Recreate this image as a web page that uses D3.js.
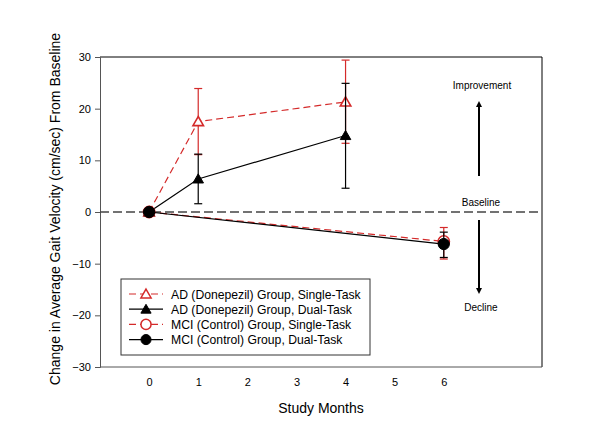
<!DOCTYPE html>
<html><head><meta charset="utf-8">
<script src="https://cdn.jsdelivr.net/npm/d3@7"></script>
<style>body{margin:0;background:#fff}svg{display:block;font-family:Arial,"Liberation Sans",sans-serif}</style>
</head><body>
<svg id="c" width="600" height="443"></svg>
<script>
const months = [0, 1, 4];
const monthsMCI = [0, 6];
const xTicks = [0, 1, 2, 3, 4, 5, 6];
const yTicks = [-30, -20, -10, 0, 10, 20, 30];
const adSingle = [0, 17.5, 21.3];
const adSingleLo = [0, 11.1, 13.3];
const adSingleHi = [0, 23.9, 29.4];
const adDual = [0, 6.4, 14.8];
const adDualLo = [0, 1.6, 4.6];
const adDualHi = [0, 11.2, 24.9];
const mciSingle = [0, -5.7];
const mciSingleLo = [0, -9.1];
const mciSingleHi = [0, -3.0];
const mciDual = [0, -6.2];
const mciDualLo = [0, -8.8];
const mciDualHi = [0, -3.9];
const legendLabels = ["AD (Donepezil) Group, Single-Task","AD (Donepezil) Group, Dual-Task","MCI (Control) Group, Single-Task","MCI (Control) Group, Dual-Task"];

const svg = d3.select("#c");
const L = 100, R = 542, T = 57, B = 367;
const x = d3.scaleLinear().domain([-1, 8]).range([L, R]);
const y = d3.scaleLinear().domain([-30, 30]).range([B, T]);
const red = "#d42a2a";

// frame
svg.append("line").attr("x1",L).attr("x2",R).attr("y1",T).attr("y2",T).attr("stroke","#000").attr("stroke-width",1);
svg.append("line").attr("x1",R).attr("x2",R).attr("y1",T).attr("y2",B).attr("stroke","#000").attr("stroke-width",1);
svg.append("line").attr("x1",L).attr("x2",R).attr("y1",B).attr("y2",B).attr("stroke","#555").attr("stroke-width",1);

// y axis
const ya = svg.append("g").attr("transform",`translate(${L},0)`).call(d3.axisLeft(y).tickValues(yTicks).tickSize(5).tickPadding(4).tickFormat(d3.format("d")));
ya.select(".domain").attr("stroke","#555");
ya.selectAll(".tick line").attr("stroke","#555");
ya.selectAll("text").attr("font-size",11).attr("fill","#000").style("font-family","Arial, 'Liberation Sans', sans-serif");

// x axis (labels only)
const xa = svg.append("g").attr("transform",`translate(0,${B})`).call(d3.axisBottom(x).tickValues(xTicks).tickSize(0).tickPadding(11).tickFormat(d3.format("d")));
xa.select(".domain").remove();
xa.selectAll("text").attr("font-size",11).attr("fill","#000").style("font-family","Arial, 'Liberation Sans', sans-serif");

// axis titles
svg.append("text").attr("x",321).attr("y",413).attr("text-anchor","middle").attr("font-size",14).text("Study Months");
svg.append("text").attr("transform",`translate(60,${(T+B)/2 - 3}) rotate(-90)`).attr("text-anchor","middle").attr("font-size",14).text("Change in Average Gait Velocity (cm/sec) From Baseline");

// baseline
svg.append("line").attr("x1",L).attr("x2",R).attr("y1",y(0)).attr("y2",y(0)).attr("stroke","#444").attr("stroke-width",1.3).attr("stroke-dasharray","9,4");

// annotations
svg.append("text").attr("x",482).attr("y",89).attr("text-anchor","middle").attr("font-size",10).text("Improvement");
svg.append("text").attr("x",481).attr("y",206).attr("text-anchor","middle").attr("font-size",10).text("Baseline");
svg.append("text").attr("x",481).attr("y",311).attr("text-anchor","middle").attr("font-size",10).text("Decline");
const defs = svg.append("defs");
defs.append("marker").attr("id","ah").attr("viewBox","0 0 10 10").attr("refX",5).attr("refY",5).attr("markerWidth",3).attr("markerHeight",3).attr("orient","auto")
  .append("path").attr("d","M0,0L10,5L0,10Z").attr("fill","#000");
svg.append("line").attr("x1",479).attr("x2",479).attr("y1",176).attr("y2",104).attr("stroke","#000").attr("stroke-width",2).attr("marker-end","url(#ah)");
svg.append("line").attr("x1",479).attr("x2",479).attr("y1",220).attr("y2",291).attr("stroke","#000").attr("stroke-width",2).attr("marker-end","url(#ah)");

function series(xs, vals, lo, hi, color, dashed, shape, filled){
  const g = svg.append("g");
  const line = d3.line().x((d,i)=>x(xs[i])).y(d=>y(d));
  xs.forEach((m,i)=>{
    if (hi[i]===lo[i]) return;
    g.append("line").attr("x1",x(m)).attr("x2",x(m)).attr("y1",y(lo[i])).attr("y2",y(hi[i])).attr("stroke",color).attr("stroke-width",1.2);
    [lo[i],hi[i]].forEach(v=>g.append("line").attr("x1",x(m)-4).attr("x2",x(m)+4).attr("y1",y(v)).attr("y2",y(v)).attr("stroke",color).attr("stroke-width",1.2));
  });
  g.append("path").datum(vals).attr("d",line).attr("fill","none").attr("stroke",color).attr("stroke-width",1.2).attr("stroke-dasharray",dashed?"7,4":null);
  const sym = d3.symbol().type(shape==="tri"?d3.symbolTriangle:d3.symbolCircle).size(shape==="tri"?48:100);
  xs.forEach((m,i)=>{
    g.append("path").attr("d",sym()).attr("transform",`translate(${x(m)},${y(vals[i]) + (shape==="tri"?1:0)})`)
      .attr("fill",filled?color:"#fff").attr("stroke",color).attr("stroke-width",filled?1:1.6);
  });
}
series(months, adSingle, adSingleLo, adSingleHi, red, true, "tri", false);
series(months, adDual, adDualLo, adDualHi, "#000", false, "tri", true);
series(monthsMCI, mciSingle, mciSingleLo, mciSingleHi, red, true, "circ", false);
series(monthsMCI, mciDual, mciDualLo, mciDualHi, "#000", false, "circ", true);

// legend
const lg = svg.append("g");
lg.append("rect").attr("x",121).attr("y",279).attr("width",249).attr("height",76).attr("fill","#fff").attr("stroke","#333").attr("stroke-width",1);
const lstyles = [[red,true,"tri",false],["#000",false,"tri",true],[red,true,"circ",false],["#000",false,"circ",true]];
legendLabels.forEach((t,i)=>{
  const yy = 294 + i*15.2;
  const [c,d,s,f] = lstyles[i];
  lg.append("line").attr("x1",129).attr("x2",163).attr("y1",yy).attr("y2",yy).attr("stroke",c).attr("stroke-width",1.2).attr("stroke-dasharray",d?"7,4":null);
  const sym = d3.symbol().type(s==="tri"?d3.symbolTriangle:d3.symbolCircle).size(s==="tri"?45:80);
  lg.append("path").attr("d",sym()).attr("transform",`translate(146,${yy + (s==="tri"?1:0)})`).attr("fill",f?c:"#fff").attr("stroke",c).attr("stroke-width",f?1:1.5);
  lg.append("text").attr("x",171).attr("y",yy+4.5).attr("font-size",12.2).text(t);
});
</script>
</body></html>
